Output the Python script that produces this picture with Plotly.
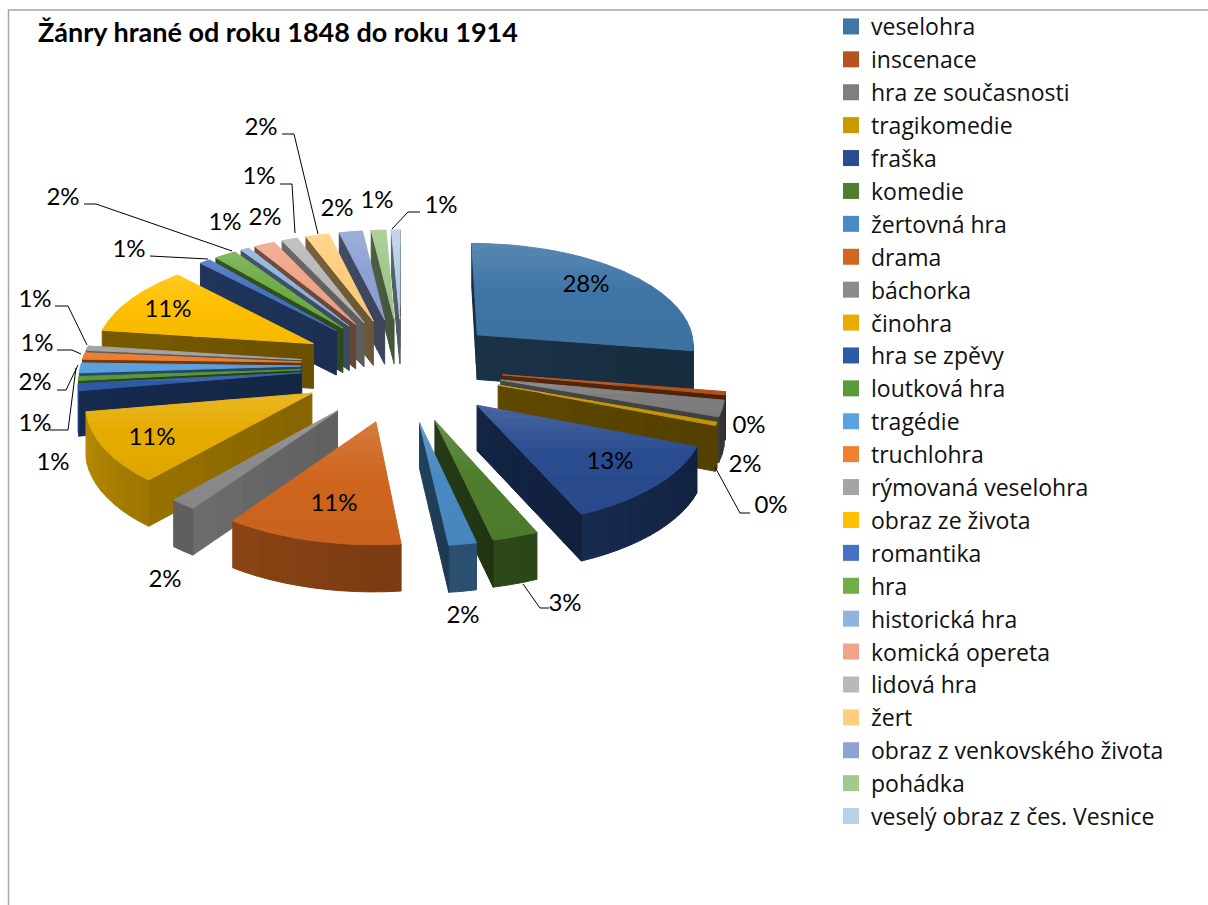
import math
import plotly.graph_objects as go

# ---------- data ----------
categories = ["veselohra", "inscenace", "hra ze současnosti", "tragikomedie", "fraška", "komedie",
              "žertovná hra", "drama", "báchorka", "činohra", "hra se zpěvy", "loutková hra",
              "tragédie", "truchlohra", "rýmovaná veselohra", "obraz ze života", "romantika", "hra",
              "historická hra", "komická opereta", "lidová hra", "žert", "obraz z venkovského života",
              "pohádka", "veselý obraz z čes. Vesnice"]
values = [27.6, 0.49, 2.49, 0.49, 12.5, 3.0, 1.8, 11.49, 1.7, 10.9, 1.1, 0.6, 1.5, 1.0, 0.7,
          10.8, 0.9, 1.8, 0.7, 1.7, 1.3, 1.9, 1.9, 1.2, 0.7]
percent_labels = ["28%", "0%", "2%", "0%", "13%", "3%", "2%", "11%", "2%", "11%", "1%", "1%", "2%",
                  "1%", "1%", "11%", "1%", "2%", "1%", "2%", "1%", "2%", "2%", "1%", "1%"]
colors = ["#3f76a6", "#b5541a", "#7f7f7f", "#c99a00", "#2a4d91", "#4f7f2e", "#4a8ac4", "#d0661f",
          "#8c8c8c", "#e6ac00", "#2f5ba6", "#5a9a3a", "#5ba3e0", "#f08030", "#a5a5a5", "#ffc000",
          "#4472c4", "#70ad47", "#8fb4e0", "#f0a58a", "#b9b9b9", "#ffcf7f", "#8fa2d4", "#a3c98e",
          "#b9d0ea"]
wall_gain = [0.9, 1, 1.2, 1, 1, 1, 1, 1, 1.65, 1.4, 1, 1, 1, 1, 1.2, 1, 1, 1, 1, 1, 1.2, 1, 1, 1, 1]
title_text = "Žánry hrané od roku 1848 do roku 1914"

# ---------- projection ----------
CX, CY, R, K, EXPLODE, PX, PY, DEPTH = 402, 365, 220, 0.47, 0.46, 0.08, 0.08, 45
FRONT_PULL = 1.18


def project(X, Y):
    return (CX + R * X / (1 + PX * Y), CY - R * K * Y / (1 + PY * Y), DEPTH / (1 + 0.03 * Y))


def rgb(c):
    return tuple(int(c[i:i + 2], 16) for i in (1, 3, 5))


def shade(c, s):
    r = rgb(c)
    if s <= 1:
        return "rgb(%d,%d,%d)" % tuple(v * s for v in r)
    return "rgb(%d,%d,%d)" % tuple(v + (255 - v) * (s - 1) for v in r)


def clip(poly, ymin, ymax):
    def cut(pts, keep, at):
        out = []
        for i, p in enumerate(pts):
            q = pts[(i + 1) % len(pts)]
            if keep(p):
                out.append(p)
            if keep(p) != keep(q):
                t = (at - p[1]) / (q[1] - p[1])
                out.append((p[0] + t * (q[0] - p[0]), at))
        return out
    a = cut(poly, lambda p: p[1] >= ymin, ymin)
    return cut(a, lambda p: p[1] <= ymax, ymax) if a else []


fig = go.Figure()


def fill(xs, ys, color):
    fig.add_trace(go.Scatter(x=xs + xs[:1], y=ys + ys[:1], mode="lines", fill="toself",
                             fillcolor=color, line=dict(color=color, width=1),
                             showlegend=False, hoverinfo="skip"))


total = sum(values)
slices = []
acc = 0.0
for i, v in enumerate(values):
    a0 = acc / total * 2 * math.pi
    acc += v
    a1 = acc / total * 2 * math.pi
    mid = (a0 + a1) / 2
    ox, oy = EXPLODE * math.sin(mid), EXPLODE * math.cos(mid)
    if oy < 0:
        oy *= FRONT_PULL
    n = max(2, int((a1 - a0) / 0.06))
    world = [(ox, oy)] + [(ox + math.sin(a0 + (a1 - a0) * j / n), oy + math.cos(a0 + (a1 - a0) * j / n))
                          for j in range(n + 1)]
    slices.append((oy + 0.5 * math.cos(mid), i, world))

for _, i, world in sorted(slices, key=lambda s: -s[0]):
    c = colors[i]
    pts = [project(*w) for w in world]
    # visible side walls
    m = len(pts)
    for j in range(m):
        p, q = pts[j], pts[(j + 1) % m]
        dx, dy = q[0] - p[0], q[1] - p[1]
        if dx >= 0:
            continue
        L = math.hypot(dx, dy) or 1
        nx = dy / L  # outward normal, x part
        radial = j == 0 or j == m - 1
        strips = 6 if (radial and L > 40) else 1
        for k in range(strips):
            t0, t1 = k / strips, (k + 1) / strips
            xa, ya, da = p[0] + dx * t0, p[1] + dy * t0, p[2] + (q[2] - p[2]) * t0
            xb, yb, db = p[0] + dx * t1, p[1] + dy * t1, p[2] + (q[2] - p[2]) * t1
            if radial:
                s = (0.45 + 0.06 * (t0 - 0.5)) * wall_gain[i]
            else:
                s = 0.60 - 0.20 * nx
            fill([xa, xb, xb, xa], [ya, yb, yb + db, ya + da], shade(c, min(s, 1)))
    # top face with a vertical gradient
    poly = [(p[0], p[1]) for p in pts]
    ys = [p[1] for p in poly]
    y0, y1 = min(ys), max(ys)
    bands = max(1, int((y1 - y0) / 7))
    for b in range(bands):
        ya = y0 + (y1 - y0) * b / bands
        yb = y0 + (y1 - y0) * (b + 1) / bands
        part = clip(poly, ya, yb)
        if len(part) >= 3:
            tt = (b + 0.5) / bands
            s = 1.14 - 0.14 * min(1, tt / 0.45) if tt < 0.45 else 1.0 - 0.06 * (tt - 0.45)
            fill([a for a, _ in part], [a for _, a in part], shade(c, s))

# ---------- leader lines ----------
leaders = [
    [(715, 467), (740, 513), (750, 513)], [(523, 584), (540, 608), (549, 608)],
    [(55, 306), (68, 306), (87, 345)], [(57, 350), (72, 350), (81, 354)],
    [(57, 390), (66, 390), (78, 365)], [(50, 430), (68, 430), (76, 368)],
    [(150, 256), (208, 259)], [(84, 204), (96, 204), (232, 251)],
    [(280, 184), (292, 184), (295, 233)], [(282, 134), (294, 134), (318, 234)],
    [(420, 212), (408, 212), (392, 229)],
]
for seg in leaders:
    fig.add_trace(go.Scatter(x=[p[0] for p in seg], y=[p[1] for p in seg], mode="lines",
                             line=dict(color="black", width=1), showlegend=False, hoverinfo="skip"))

# ---------- percent labels ----------
label_x = [586, 749, 745, 771, 610, 565, 463, 334, 165, 152, 53, 35, 35, 37, 35, 168, 129, 63, 225,
           265, 259, 261, 337, 377, 441]
label_y = [286, 427, 466, 507, 463, 605, 617, 505, 581, 439, 464, 425, 384, 345, 301, 311, 251, 199,
           224, 219, 178, 129, 210, 202, 207]
fig.add_trace(go.Scatter(x=label_x, y=label_y, text=percent_labels, mode="text",
                         textfont=dict(family="Lato", size=24, color="black"),
                         showlegend=False, hoverinfo="skip"))

# ---------- legend ----------
for name, c in zip(categories, colors):
    fig.add_trace(go.Scatter(x=[None], y=[None], mode="markers", name=name,
                             marker=dict(symbol="square", size=16, color=c)))

fig.update_layout(
    width=1208, height=905, margin=dict(l=0, r=0, t=0, b=0),
    paper_bgcolor="white", plot_bgcolor="white",
    xaxis=dict(range=[0, 1208], visible=False, fixedrange=True),
    yaxis=dict(range=[905, 0], visible=False, fixedrange=True),
    legend=dict(x=831 / 1208, y=1 - 5 / 905, xanchor="left", yanchor="top", traceorder="normal",
                font=dict(family="Open Sans", size=23, color="#111111"), bgcolor="rgba(0,0,0,0)",
                tracegroupgap=0, maxheight=880),
    shapes=[dict(type="line", xref="x", yref="y", x0=8.5, x1=8.5, y0=10, y1=905,
                 line=dict(color="#a6a6a6", width=1.5)),
            dict(type="line", xref="x", yref="y", x0=8, x1=1208, y0=10, y1=10,
                 line=dict(color="#a6a6a6", width=1.5))],
    annotations=[dict(text="<b>%s</b>" % title_text, x=36, y=31.5, xref="x", yref="y", xanchor="left",
                      yanchor="middle", showarrow=False,
                      font=dict(family="Lato", size=27, color="black"))],
)
fig.write_html("out.html", post_script="document.body.style.margin='0';",
               config=dict(displayModeBar=False))
